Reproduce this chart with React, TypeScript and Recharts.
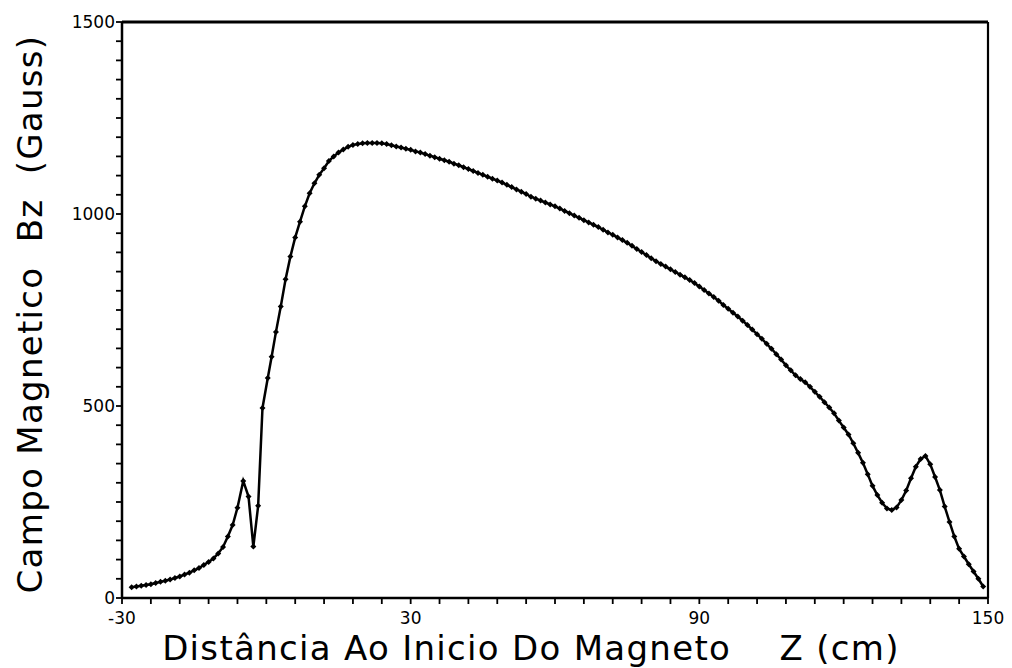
import React from "react";
import { LineChart, Line, XAxis, YAxis, ReferenceLine, Label } from "recharts";

// Distance from magnet start, z (cm)
const zValues: number[] = [
  -28, -27, -26, -25, -24, -23, -22, -21, -20, -19, -18, -17, -16, -15, -14, -13,
  -12, -11, -10, -9, -8, -7, -6, -4.8, -3.7, -2.7, -1.7, -0.8, 0.3, 1.1,
  2, 3, 4, 5, 6, 7, 8, 9, 10, 11, 12, 13, 14, 15, 16, 17, 18, 19, 20,
  21, 22, 23, 24, 25, 26, 27, 28, 29, 30, 31, 32, 33, 34, 35, 36, 37, 38, 39, 40,
  41, 42, 43, 44, 45, 46, 47, 48, 49, 50, 51, 52, 53, 54, 55, 56, 57, 58, 59, 60,
  61, 62, 63, 64, 65, 66, 67, 68, 69, 70, 71, 72, 73, 74, 75, 76, 77, 78, 79, 80,
  81, 82, 83, 84, 85, 86, 87, 88, 89, 90, 91, 92, 93, 94, 95, 96, 97, 98, 99, 100,
  101, 102, 103, 104, 105, 106, 107, 108, 109, 110, 111, 112, 113, 114, 115, 116, 117, 118, 119, 120,
  121, 122, 123, 124, 125, 126, 127, 128, 129, 130, 131, 132, 133, 134, 135, 136, 137, 138, 139, 140,
  141, 142, 143, 144, 145, 146, 147, 148, 149,
];

// Magnetic field Bz (Gauss)
const bzValues: number[] = [
  28, 30, 32, 34, 36, 39, 42, 45, 48, 52, 56, 61, 66, 72, 78, 86,
  94, 103, 116, 133, 160, 190, 235, 305, 264, 134, 240, 495, 573, 628,
  693, 759, 830, 889, 939, 980, 1020, 1054, 1080, 1102, 1119, 1138, 1150, 1160, 1168, 1175, 1180, 1182, 1184,
  1185, 1185, 1185, 1184, 1182, 1179, 1176, 1173, 1170, 1167, 1163, 1160, 1156, 1152, 1148, 1144, 1140, 1136, 1131, 1127,
  1122, 1117, 1112, 1107, 1102, 1097, 1092, 1087, 1082, 1076, 1070, 1064, 1058, 1052, 1045, 1040, 1035, 1030, 1025, 1020,
  1014, 1008, 1002, 996, 990, 984, 978, 972, 966, 959, 952, 946, 939, 932, 925, 917, 909, 901, 893, 885,
  877, 870, 863, 856, 849, 842, 835, 828, 820, 811, 802, 793, 784, 774, 763, 753, 743, 733, 722, 711,
  699, 687, 675, 662, 649, 635, 621, 606, 593, 580, 570, 562, 550, 537, 524, 510, 496, 481, 462, 444,
  426, 403, 378, 352, 322, 292, 268, 248, 233, 229, 236, 255, 280, 312, 342, 362, 370, 348, 315, 281,
  238, 198, 160, 128, 108, 88, 69, 50, 30,
];

const xTicks: number[] = [
  -30, -24, -18, -12, -6, 0, 6, 12, 18, 24, 30, 36, 42, 48, 54, 60, 66, 72, 78, 84,
  90, 96, 102, 108, 114, 120, 126, 132, 138, 144, 150,
];
const xTickLabels: number[] = [-30, 30, 90, 150];

const yTicks: number[] = [
  0, 50, 100, 150, 200, 250, 300, 350, 400, 450, 500, 550, 600, 650, 700, 750, 800, 850,
  900, 950, 1000, 1050, 1100, 1150, 1200, 1250, 1300, 1350, 1400, 1450, 1500,
];
const yTickLabels: number[] = [0, 500, 1000, 1500];

const xTitle = "Distância Ao Inicio Do Magneto\u00A0\u00A0\u00A0\u00A0Z (cm)";
const yTitle = "Campo Magnetico\u00A0\u00A0Bz\u00A0\u00A0(Gauss)";

const data = zValues.map((z, i) => ({ z, bz: bzValues[i] }));

const FONT = "'DejaVu Sans', 'Noto Sans', sans-serif";

const Diamond = (props: any) => {
  const { cx, cy, index } = props;
  if (cx == null || cy == null) return <g key={`d-${index}`} />;
  const r = 3;
  return (
    <path
      key={`d-${index}`}
      d={`M${cx},${cy - r}L${cx + r},${cy}L${cx},${cy + r}L${cx - r},${cy}Z`}
      fill="#000"
      stroke="none"
    />
  );
};

export default function App() {
  return (
    <div style={{ position: "absolute", left: 0, top: 0, width: 1012, height: 668, background: "#fff" }}>
      <LineChart
        width={1012}
        height={668}
        data={data}
        margin={{ top: 22, right: 24, bottom: 0, left: 0 }}
        style={{ fontFamily: FONT }}
      >
        <XAxis
          dataKey="z"
          type="number"
          domain={[-30, 150]}
          ticks={xTicks}
          interval={0}
          tickFormatter={(v: number) => (xTickLabels.includes(v) ? String(v) : "")}
          height={70}
          tickSize={6}
          tickMargin={8}
          axisLine={{ stroke: "#000", strokeWidth: 2.5 }}
          tickLine={{ stroke: "#000", strokeWidth: 1.8 }}
          tick={{ fill: "#000", fontSize: 17, fontFamily: FONT }}
          allowDataOverflow
        >
          <Label
            value={xTitle}
            position="center"
            dx={-24}
            dy={15}
            style={{ fontSize: 34, fontFamily: FONT, fill: "#000", letterSpacing: 1.3 }}
          />
        </XAxis>
        <YAxis
          type="number"
          domain={[0, 1500]}
          ticks={yTicks}
          interval={0}
          tickFormatter={(v: number) => (yTickLabels.includes(v) ? String(v) : "")}
          width={122}
          tickSize={6}
          tickMargin={1}
          axisLine={{ stroke: "#000", strokeWidth: 2.5 }}
          tickLine={{ stroke: "#000", strokeWidth: 1.8 }}
          tick={{ fill: "#000", fontSize: 17, fontFamily: FONT }}
          allowDataOverflow
        >
          <Label
            value={yTitle}
            position="center"
            angle={-90}
            dx={-31}
            dy={4}
            style={{ fontSize: 34, fontFamily: FONT, fill: "#000", letterSpacing: 1.3 }}
          />
        </YAxis>
        <ReferenceLine y={1500} stroke="#000" strokeWidth={3} />
        <ReferenceLine x={150} stroke="#000" strokeWidth={2.2} />
        <Line
          dataKey="bz"
          type="linear"
          stroke="#000"
          strokeWidth={2.5}
          dot={Diamond}
          activeDot={false}
          isAnimationActive={false}
        />
      </LineChart>
    </div>
  );
}
